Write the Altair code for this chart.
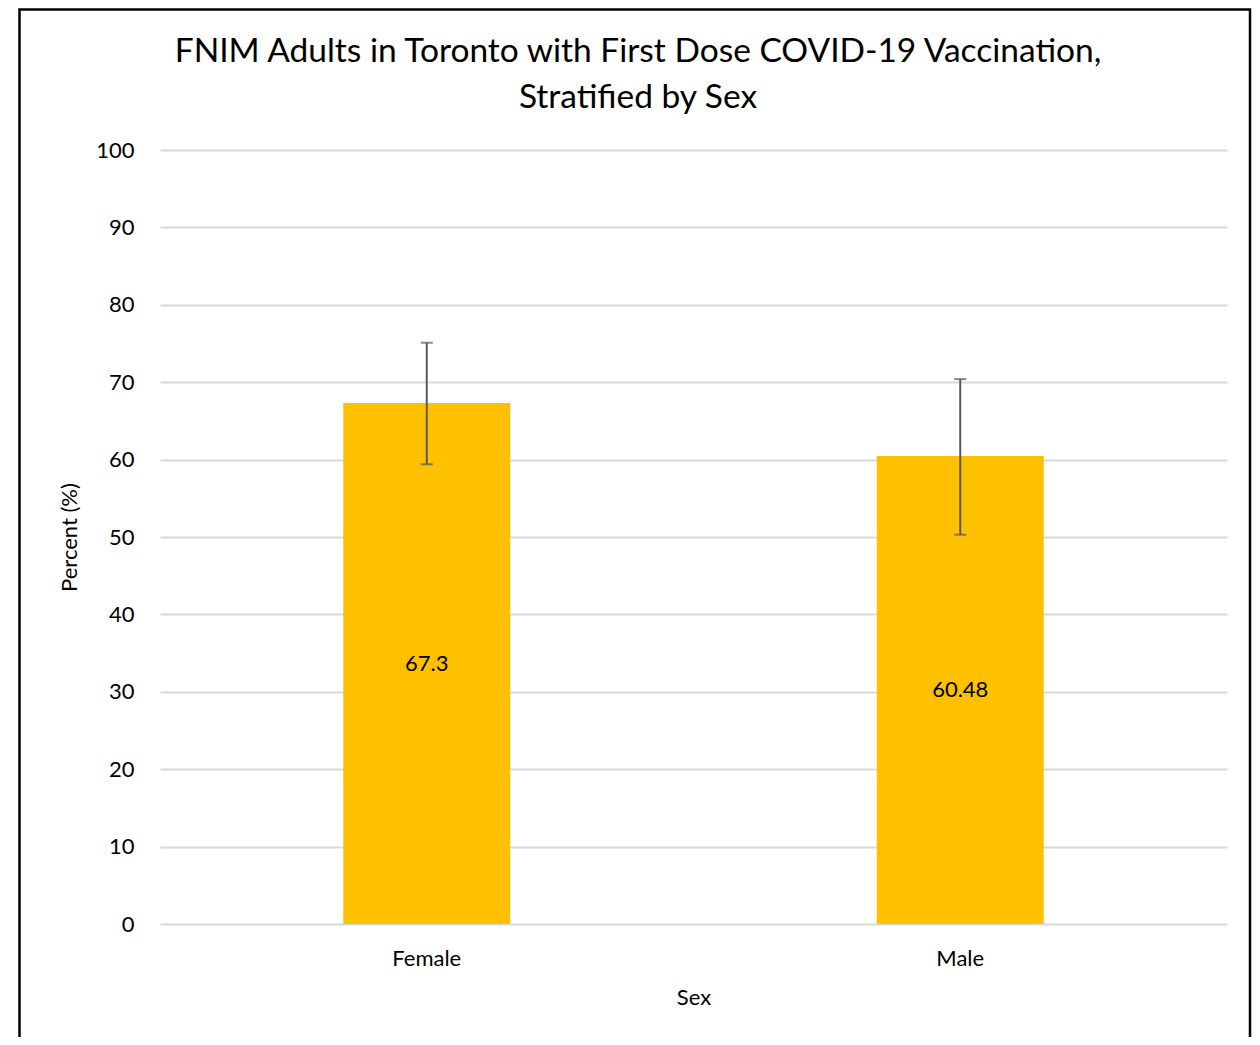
import altair as alt
import pandas as pd

sex = ["Female", "Male"]
percent = [67.3, 60.48]
ci_low = [59.4, 50.3]
ci_high = [75.1, 70.4]
labels = ["67.3", "60.48"]
title_lines = ["FNIM Adults in Toronto with First Dose COVID-19 Vaccination,", "Stratified by Sex"]

df = pd.DataFrame({"Sex": sex, "Percent": percent, "Low": ci_low, "High": ci_high,
                   "Label": labels, "Mid": [p / 2 for p in percent]})

FONT = "Lato"
W, H = 1067, 774

x = alt.X("Sex:N", sort=sex, title="Sex",
          scale=alt.Scale(paddingInner=0, paddingOuter=0),
          axis=alt.Axis(labelAngle=0, domain=False, ticks=False, grid=False, labelPadding=24,
                        labelFontSize=22, titleFontSize=22, titlePadding=18,
                        labelColor="#000000", titleColor="#000000",
                        titleFontWeight="normal", labelFont=FONT, titleFont=FONT))

base = alt.Chart(df)

bars = base.mark_bar(color="#FFC000", width=alt.RelativeBandSize(0.313)).encode(
    x=x,
    y=alt.Y("Percent:Q", title="Percent (%)",
            scale=alt.Scale(domain=[0, 100], nice=False),
            axis=alt.Axis(values=list(range(0, 101, 10)), domain=False, ticks=False,
                          grid=True, gridColor="#d9d9d9", gridWidth=2,
                          labelPadding=26, labelFontSize=22, titleFontSize=22,
                          titlePadding=14, labelColor="#000000", titleColor="#000000",
                          titleFontWeight="normal", labelFont=FONT, titleFont=FONT)),
)

rules = base.mark_rule(color="#595959", strokeWidth=2).encode(
    x=alt.X("Sex:N", sort=sex), y="Low:Q", y2="High:Q")

caps_hi = base.mark_tick(color="#595959", thickness=2, size=12, orient="horizontal").encode(
    x=alt.X("Sex:N", sort=sex), y="High:Q")
caps_lo = base.mark_tick(color="#595959", thickness=2, size=12, orient="horizontal").encode(
    x=alt.X("Sex:N", sort=sex), y="Low:Q")

text = base.mark_text(font=FONT, fontSize=22, color="#000000").encode(
    x=alt.X("Sex:N", sort=sex), y="Mid:Q", text="Label:N")

one = pd.DataFrame({"a": [0]})
title = alt.Chart(one).mark_text(
    text=title_lines, font=FONT, fontSize=33.5, color="#000000",
    align="center", baseline="top", lineHeight=46).encode(
    x=alt.value(478), y=alt.value(-114.5))

border = alt.Chart(one).mark_rect(
    fill=None, stroke="#000000", strokeWidth=2.5).encode(
    x=alt.value(-140.5), x2=alt.value(1090), y=alt.value(-140.5), y2=alt.value(920))

chart = alt.layer(bars, rules, caps_hi, caps_lo, text, title, border).properties(
    width=W, height=H,
    background="#ffffff",
    autosize=alt.AutoSizeParams(type="none"),
    padding={"left": 152, "top": 142, "right": 25, "bottom": 113},
).configure_view(strokeWidth=0, stroke="transparent")

chart.save("out.html", embed_options={"renderer": "svg", "actions": False})
